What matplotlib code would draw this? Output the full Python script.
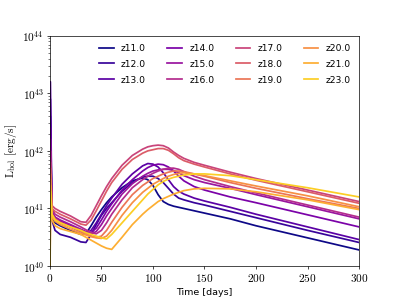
import numpy as np
import matplotlib
matplotlib.use("Agg")
import matplotlib.pyplot as plt
from matplotlib.ticker import FuncFormatter

plt.rcParams["mathtext.fontset"] = "cm"

# common time grid [days]
t = [0, 0.5, 2, 5, 10, 20, 30, 35, 40, 45, 50, 55, 60, 70, 80, 90, 95, 100,
     105, 110, 115, 120, 125, 130, 140, 150, 175, 200, 250, 300]

# log10 of bolometric luminosity [erg/s]
logL_z11 = [39.0, 42.6, 40.85, 40.75, 40.7, 40.62, 40.55, 40.56, 40.7, 40.85, 40.98, 41.1, 41.2, 41.36,
            41.48, 41.53, 41.5, 41.4, 41.24, 41.12, 41.07, 41.04, 41.02, 41.0, 40.96, 40.92, 40.82, 40.7,
            40.49, 40.28]
logL_z12 = [39.0, 42.9, 40.8, 40.62, 40.55, 40.5, 40.42, 40.41, 40.55, 40.72, 40.88, 41.0, 41.1, 41.3,
            41.45, 41.55, 41.56, 41.56, 41.52, 41.45, 41.35, 41.25, 41.18, 41.15, 41.1, 41.06, 40.95, 40.84,
            40.62, 40.41]
logL_z13 = [39.0, 43.2, 40.9, 40.8, 40.75, 40.68, 40.6, 40.57, 40.62, 40.75, 40.9, 41.05, 41.18, 41.42,
            41.6, 41.74, 41.78, 41.77, 41.72, 41.62, 41.5, 41.38, 41.3, 41.25, 41.18, 41.13, 41.02, 40.9,
            40.68, 40.46]
logL_z14 = [39.0, 42.4, 40.95, 40.85, 40.78, 40.7, 40.62, 40.58, 40.58, 40.66, 40.8, 40.95, 41.08, 41.32,
            41.5, 41.65, 41.71, 41.75, 41.77, 41.76, 41.72, 41.65, 41.56, 41.48, 41.38, 41.32, 41.2, 41.1,
            40.89, 40.68]
logL_z15 = [39.0, 42.2, 40.95, 40.85, 40.8, 40.72, 40.64, 40.6, 40.56, 40.6, 40.72, 40.87, 41.0, 41.25,
            41.43, 41.56, 41.61, 41.65, 41.67, 41.68, 41.68, 41.66, 41.62, 41.57, 41.5, 41.45, 41.35, 41.24,
            41.03, 40.82]
logL_z16 = [39.0, 42.0, 41.0, 40.9, 40.85, 40.77, 40.68, 40.63, 40.58, 40.56, 40.62, 40.75, 40.9, 41.15,
            41.36, 41.5, 41.56, 41.61, 41.65, 41.68, 41.7, 41.7, 41.68, 41.64, 41.56, 41.5, 41.38, 41.27,
            41.06, 40.85]
logL_z17 = [39.0, 41.8, 41.05, 41.0, 40.95, 40.87, 40.77, 40.76, 40.88, 41.05, 41.22, 41.38, 41.52, 41.75,
            41.92, 42.03, 42.07, 42.09, 42.1, 42.09, 42.05, 41.98, 41.92, 41.87, 41.8, 41.75, 41.63, 41.52,
            41.32, 41.12]
logL_z18 = [39.0, 41.7, 41.0, 40.95, 40.9, 40.82, 40.73, 40.71, 40.8, 40.96, 41.13, 41.3, 41.45, 41.68,
            41.85, 41.96, 42.0, 42.02, 42.04, 42.04, 42.01, 41.95, 41.88, 41.83, 41.77, 41.72, 41.6, 41.49,
            41.29, 41.09]
logL_z19 = [39.0, 41.6, 40.9, 40.82, 40.76, 40.68, 40.6, 40.56, 40.52, 40.5, 40.52, 40.62, 40.76, 41.02,
            41.24, 41.4, 41.46, 41.52, 41.56, 41.6, 41.63, 41.65, 41.65, 41.64, 41.6, 41.56, 41.45, 41.35,
            41.17, 41.0]
logL_z20 = [39.0, 41.5, 40.85, 40.78, 40.72, 40.64, 40.57, 40.54, 40.51, 40.49, 40.48, 40.52, 40.62, 40.88,
            41.1, 41.28, 41.35, 41.42, 41.47, 41.52, 41.56, 41.59, 41.61, 41.62, 41.6, 41.57, 41.48, 41.39,
            41.22, 41.03]
logL_z21 = [39.0, 41.4, 40.8, 40.7, 40.65, 40.6, 40.55, 40.5, 40.45, 40.4, 40.35, 40.31, 40.29, 40.5,
            40.72, 40.9, 40.98, 41.05, 41.12, 41.17, 41.21, 41.25, 41.28, 41.31, 41.34, 41.35, 41.34, 41.29,
            41.15, 40.98]
logL_z23 = [39.0, 41.3, 40.9, 40.8, 40.75, 40.68, 40.62, 40.58, 40.55, 40.52, 40.49, 40.47, 40.55, 40.75,
            40.95, 41.15, 41.25, 41.33, 41.41, 41.47, 41.51, 41.54, 41.56, 41.58, 41.6, 41.6, 41.57, 41.5,
            41.36, 41.2]

labels = ["z11.0", "z12.0", "z13.0", "z14.0", "z15.0", "z16.0",
          "z17.0", "z18.0", "z19.0", "z20.0", "z21.0", "z23.0"]
series = [logL_z11, logL_z12, logL_z13, logL_z14, logL_z15, logL_z16,
          logL_z17, logL_z18, logL_z19, logL_z20, logL_z21, logL_z23]

colors = plt.cm.plasma(np.linspace(0, 0.9, len(series)))

fig, ax = plt.subplots(figsize=(6.4, 4.8), dpi=399 / 6.4)
for logL, lab, c in zip(series, labels, colors):
    ax.plot(t, 10 ** np.array(logL), color=c, lw=2, label=lab)

ax.set_yscale("log")
ax.set_xlim(0, 300)
ax.set_ylim(1e40, 1e44)
ax.yaxis.set_major_formatter(FuncFormatter(lambda v, p: r"$10^{%d}$" % round(np.log10(v))))
ax.xaxis.set_major_formatter(FuncFormatter(lambda v, p: r"$%d$" % v))
ax.tick_params(labelsize=13)
ax.set_xlabel("Time [days]", fontsize=11)
ax.set_ylabel(r"$\mathrm{L_{bol}\ [erg/s]}$", fontsize=13)
ax.legend(ncol=4, frameon=False, loc="upper right", handlelength=1.6,
          labelspacing=0.75, columnspacing=2.35, fontsize=10.5)

fig.savefig("out.png", dpi=399 / 6.4)
